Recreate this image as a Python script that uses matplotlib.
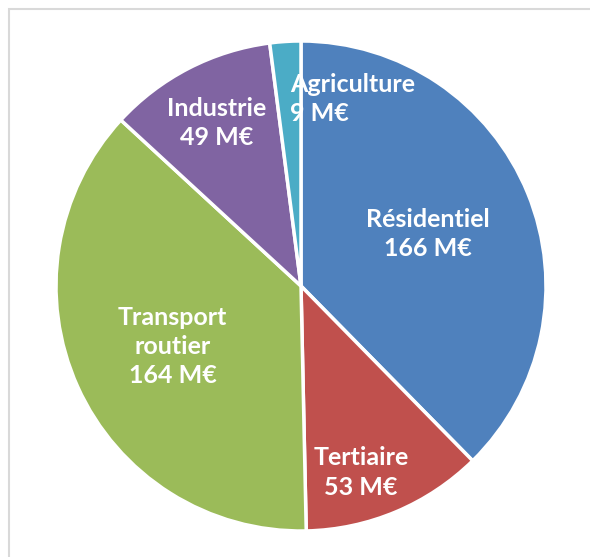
import matplotlib.pyplot as plt
from matplotlib.patches import Rectangle
import numpy as np

# --- DATA ---
sectors = ["Résidentiel", "Tertiaire", "Transport\nroutier", "Industrie", "Agriculture"]
values = [166, 53, 164, 49, 9]
colors = ["#4F81BD", "#C0504D", "#9BBB59", "#8064A2", "#4BACC6"]

# label distance (fraction of radius), angle shift (deg) and line alignment per wedge
label_dist = [0.56, 0.80, 0.58, 0.75, 0.79]
label_shift = [0, -5, 1, 0, -19]
label_align = ["center", "center", "center", "center", "left"]

W, H = 590, 557
fig = plt.figure(figsize=(W / 100, H / 100), dpi=100)
ax = fig.add_axes([0, 0, 1, 1])

# light frame (top and left edges visible)
ax.add_patch(Rectangle((9, -20), W + 40, H - 9 + 20, fill=False,
                       edgecolor="#D9D9D9", linewidth=1.5))

cx, cy, r = 301, H - 286, 245
wedges, _ = ax.pie(values, colors=colors, startangle=90, counterclock=False,
                   radius=r, center=(cx, cy), frame=True,
                   wedgeprops=dict(edgecolor="white", linewidth=2.5))
ax.set_xlim(0, W)
ax.set_ylim(0, H)
ax.set_aspect("equal")
ax.axis("off")

for w, name, v, d, s, al in zip(wedges, sectors, values, label_dist,
                                label_shift, label_align):
    ang = np.deg2rad((w.theta1 + w.theta2) / 2 + s)
    x = cx + d * r * np.cos(ang)
    y = cy + d * r * np.sin(ang)
    ax.text(x, y, f"{name}\n{v} M€", ha="center", va="center", multialignment=al,
            color="white", fontsize=18, fontweight="bold",
            family=["Lato", "DejaVu Sans"], linespacing=1.33)

plt.savefig("out.png", dpi=100)
plt.close()
